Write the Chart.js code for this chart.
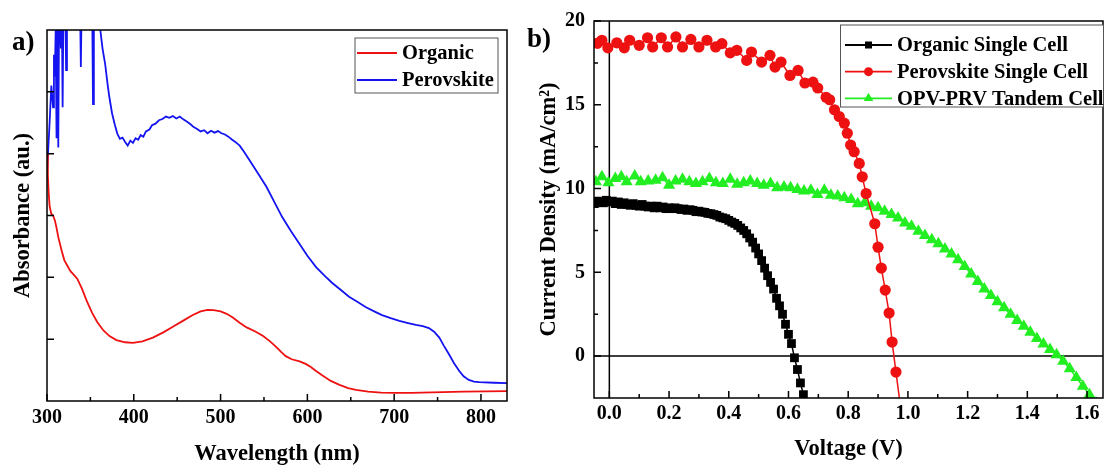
<!DOCTYPE html>
<html>
<head>
<meta charset="utf-8">
<script src="https://cdn.jsdelivr.net/npm/chart.js@4.4.0/dist/chart.umd.min.js"></script>
<style>
  html, body { margin: 0; padding: 0; background: #fff; overflow: hidden; width: 1105px; height: 465px; }
  #absChart { position: absolute; left: 0; top: 0; }
  #jvChart { position: absolute; left: 520px; top: 0; }
</style>
</head>
<body>
<canvas id="absChart" width="520" height="465"></canvas>
<canvas id="jvChart" width="590" height="465"></canvas>
<script>
// ---- panel a: absorbance spectra ----
const organicNm = [300, 301, 302, 303, 305, 307, 309, 311, 313, 317, 320, 323, 327, 331, 335, 340, 346, 352, 358, 365,
  372, 380, 390, 399, 410, 422, 434, 445, 457, 468, 477, 485, 492, 500, 507, 514, 522, 530, 540, 549,
  557, 564, 570, 575, 582, 591, 598, 604, 610, 617, 627, 637, 647, 656, 670, 685, 700, 720, 744, 780, 830];
const organicAbs = [0.80, 0.73, 0.67, 0.63, 0.605, 0.60, 0.585, 0.56, 0.53, 0.485, 0.455, 0.44, 0.42, 0.408, 0.395, 0.365, 0.322, 0.285, 0.255, 0.228,
  0.21, 0.197, 0.19, 0.188, 0.193, 0.205, 0.222, 0.24, 0.26, 0.278, 0.29, 0.295, 0.294, 0.29, 0.282, 0.27, 0.253, 0.238, 0.225, 0.21,
  0.193, 0.175, 0.158, 0.145, 0.135, 0.128, 0.12, 0.11, 0.097, 0.083, 0.065, 0.052, 0.042, 0.036, 0.03, 0.027, 0.026, 0.026, 0.028, 0.03, 0.032];

const perovNm = [300, 303, 305, 307, 308, 309, 310, 311, 312, 313, 314, 316, 317, 318, 319, 321, 322, 323, 338, 339,
  340, 352, 353, 354, 361, 364, 367, 370, 372, 375, 378, 381, 384, 387, 390, 393, 396, 399, 402, 405,
  408, 411, 414, 418, 421, 425, 429, 433, 437, 441, 445, 449, 453, 457, 461, 465, 469, 473, 477, 481,
  485, 489, 493, 497, 501, 505, 509, 513, 517, 522, 527, 533, 543, 553, 562, 571, 581, 591, 600, 610,
  620, 629, 639, 648, 658, 667, 677, 686, 696, 706, 716, 725, 733, 740, 746, 752, 757, 763, 769, 775,
  780, 786, 792, 798, 815, 830];
const perovAbs = [0.74, 0.90, 1.02, 0.95, 1.12, 1.05, 1.20, 0.85, 1.30, 0.82, 1.30, 1.14, 1.30, 0.95, 1.30, 1.30, 1.07, 1.30, 1.30, 1.08,
  1.30, 1.30, 0.96, 1.30, 1.21, 1.14, 1.09, 1.02, 0.98, 0.93, 0.895, 0.865, 0.848, 0.852, 0.838, 0.826, 0.842, 0.835, 0.85, 0.845,
  0.86, 0.855, 0.872, 0.878, 0.892, 0.897, 0.908, 0.912, 0.92, 0.916, 0.922, 0.914, 0.92, 0.911, 0.904, 0.896, 0.886, 0.88, 0.872, 0.876,
  0.866, 0.874, 0.868, 0.873, 0.866, 0.862, 0.855, 0.846, 0.838, 0.826, 0.806, 0.78, 0.737, 0.692, 0.643, 0.595, 0.55, 0.508, 0.47, 0.433,
  0.405, 0.381, 0.358, 0.337, 0.32, 0.304, 0.29, 0.278, 0.268, 0.259, 0.252, 0.246, 0.242, 0.236, 0.224, 0.205, 0.18, 0.152, 0.122, 0.097,
  0.08, 0.068, 0.063, 0.061, 0.059, 0.058];

const wlTicks = [300, 400, 500, 600, 700, 800];
const wlMinor = [350, 450, 550, 650, 750];
const absTicks = [0.2, 0.4, 0.6, 0.8, 1.0];

// ---- panel b: J-V curves ----
const orgV = [-0.05, -0.04, -0.03, -0.02, -0.01, 0.00, 0.01, 0.02, 0.03, 0.04, 0.05, 0.06, 0.07, 0.08, 0.09, 0.10,
  0.11, 0.12, 0.13, 0.14, 0.15, 0.16, 0.17, 0.18, 0.19, 0.20, 0.21, 0.22, 0.23, 0.24, 0.25, 0.26,
  0.27, 0.28, 0.29, 0.30, 0.31, 0.32, 0.33, 0.34, 0.35, 0.36, 0.37, 0.38, 0.39, 0.40, 0.41, 0.42,
  0.43, 0.44, 0.45, 0.46, 0.47, 0.48, 0.49, 0.50, 0.51, 0.52, 0.53, 0.54, 0.55, 0.56, 0.57, 0.58,
  0.59, 0.60, 0.61, 0.62, 0.63, 0.64, 0.65, 0.66];
const orgJ = [9.1, 9.25, 9.2, 9.15, 9.3, 9.2, 9.25, 9.1, 9.2, 9.05, 9.15, 9.05, 9.0, 9.1, 9.0, 8.95,
  9.05, 8.95, 8.9, 8.95, 8.85, 8.95, 8.85, 8.9, 8.8, 8.85, 8.8, 8.85, 8.8, 8.75, 8.78, 8.7,
  8.74, 8.7, 8.62, 8.65, 8.6, 8.58, 8.52, 8.5, 8.45, 8.4, 8.3, 8.25, 8.2, 8.1, 8.0, 7.92,
  7.8, 7.65, 7.5, 7.3, 7.05, 6.8, 6.45, 6.1, 5.7, 5.25, 4.8, 4.4, 4.0, 3.45, 3.0, 2.5,
  1.9, 1.3, 0.75, -0.1, -0.8, -1.6, -2.3, -3.0];

const prvV = [-0.04, -0.025, -0.005, 0.025, 0.05, 0.068, 0.1, 0.128, 0.145, 0.174, 0.195, 0.223, 0.245, 0.273, 0.3, 0.327,
  0.356, 0.377, 0.405, 0.427, 0.46, 0.476, 0.51, 0.538, 0.555, 0.575, 0.605, 0.632, 0.655, 0.682, 0.698, 0.726,
  0.738, 0.754, 0.77, 0.787, 0.797, 0.808, 0.82, 0.837, 0.847, 0.86, 0.889, 0.9, 0.911, 0.924, 0.937, 0.947, 0.96, 0.975];
const prvJ = [18.67, 18.85, 18.4, 18.7, 18.4, 18.85, 18.55, 19.0, 18.45, 19.0, 18.45, 19.05, 18.45, 18.9, 18.45, 18.85,
  18.45, 18.65, 18.1, 18.25, 17.65, 18.15, 17.55, 17.95, 17.25, 17.55, 16.75, 17.05, 16.3, 16.35, 16.0, 15.45,
  15.3, 14.7, 14.3, 13.9, 13.3, 12.6, 12.2, 11.5, 10.7, 9.7, 7.9, 6.5, 5.25, 3.94, 2.57, 0.84, -0.95, -3.0];

const tanV = [-0.045, -0.025, -0.003, 0.02, 0.04, 0.058, 0.085, 0.105, 0.13, 0.155, 0.178, 0.2, 0.222, 0.245, 0.268, 0.29,
  0.312, 0.335, 0.357, 0.38, 0.405, 0.428, 0.45, 0.472, 0.495, 0.517, 0.54, 0.562, 0.585, 0.607, 0.63, 0.652,
  0.675, 0.697, 0.72, 0.742, 0.765, 0.787, 0.81, 0.832, 0.855, 0.877, 0.9, 0.922, 0.945, 0.967, 0.99, 1.012,
  1.035, 1.057, 1.08, 1.102, 1.124, 1.146, 1.168, 1.19, 1.212, 1.234, 1.256, 1.278, 1.3, 1.322, 1.344, 1.366,
  1.388, 1.41, 1.432, 1.454, 1.476, 1.498, 1.52, 1.542, 1.564, 1.586, 1.608, 1.63];
const tanJ = [10.4, 10.7, 10.35, 10.6, 10.7, 10.4, 10.75, 10.4, 10.45, 10.5, 10.65, 10.2, 10.45, 10.55, 10.4, 10.3,
  10.4, 10.6, 10.35, 10.3, 10.55, 10.25, 10.35, 10.45, 10.3, 10.2, 10.3, 10.05, 10.1, 10.05, 9.95, 9.85,
  9.9, 9.65, 9.9, 9.6, 9.55, 9.45, 9.35, 9.1, 9.15, 8.95, 8.85, 8.65, 8.45, 8.25, 7.95, 7.75,
  7.45, 7.2, 6.95, 6.7, 6.4, 6.1, 5.75, 5.35, 4.9, 4.45, 4.0, 3.62, 3.25, 2.88, 2.5, 2.12,
  1.78, 1.42, 1.05, 0.72, 0.4, 0.08, -0.3, -0.75, -1.28, -1.8, -2.3, -2.8];

const vTicks = [0.0, 0.2, 0.4, 0.6, 0.8, 1.0, 1.2, 1.4, 1.6];
const vMinor = [0.1, 0.3, 0.5, 0.7, 0.9, 1.1, 1.3, 1.5];
const jTicks = [0, 5, 10, 15, 20];
const jMinor = [2.5, 7.5, 12.5, 17.5];

Chart.defaults.font.family = '"Liberation Serif", "Times New Roman", serif';
Chart.defaults.font.weight = 'bold';
Chart.defaults.color = '#000';

function pairs(xs, ys) {
  return xs.map((x, i) => ({ x: x, y: ys[i] }));
}

// box, inward ticks and zero lines
const framePlugin = {
  id: 'frame',
  beforeDatasetsDraw(chart, args, o) {
    if (!o.zeroLines) return;
    const { ctx, chartArea: a, scales } = chart;
    const zx = scales.x.getPixelForValue(0);
    const zy = scales.y.getPixelForValue(0);
    ctx.save();
    ctx.strokeStyle = '#000';
    ctx.lineWidth = 1.5;
    ctx.beginPath();
    ctx.moveTo(zx, a.top); ctx.lineTo(zx, a.bottom);
    ctx.moveTo(a.left, zy); ctx.lineTo(a.right, zy);
    ctx.stroke();
    ctx.restore();
  },
  afterDatasetsDraw(chart, args, o) {
    const { ctx, chartArea: a, scales } = chart;
    ctx.save();
    ctx.strokeStyle = '#000';
    ctx.lineWidth = 1.5;
    ctx.strokeRect(a.left, a.top, a.right - a.left, a.bottom - a.top);
    ctx.beginPath();
    (o.xMajor || []).forEach(v => { const p = scales.x.getPixelForValue(v); ctx.moveTo(p, a.bottom); ctx.lineTo(p, a.bottom - 7); });
    (o.xMinor || []).forEach(v => { const p = scales.x.getPixelForValue(v); ctx.moveTo(p, a.bottom); ctx.lineTo(p, a.bottom - 4); });
    (o.yMajor || []).forEach(v => { const p = scales.y.getPixelForValue(v); ctx.moveTo(a.left, p); ctx.lineTo(a.left + 7, p); });
    (o.yMinor || []).forEach(v => { const p = scales.y.getPixelForValue(v); ctx.moveTo(a.left, p); ctx.lineTo(a.left + 4, p); });
    ctx.stroke();
    ctx.restore();
  },
  afterDraw(chart, args, o) {
    const ctx = chart.ctx;
    ctx.save();
    // legend box
    const lg = o.legend;
    if (lg) {
      ctx.fillStyle = '#fff';
      ctx.fillRect(lg.box[0], lg.box[1], lg.box[2], lg.box[3]);
      ctx.strokeStyle = '#555';
      ctx.lineWidth = 1;
      ctx.strokeRect(lg.box[0], lg.box[1], lg.box[2], lg.box[3]);
      ctx.font = 'bold ' + lg.size + 'px "Liberation Serif", serif';
      ctx.textBaseline = 'middle';
      chart.data.datasets.forEach((ds, i) => {
        const y = lg.rows[i];
        ctx.strokeStyle = ds.borderColor;
        ctx.lineWidth = 1.8;
        ctx.beginPath();
        ctx.moveTo(lg.x1, y); ctx.lineTo(lg.x2, y);
        ctx.stroke();
        if (ds.pointRadius > 0) {
          ctx.fillStyle = ds.backgroundColor;
          Chart.helpers.drawPoint(ctx, { pointStyle: ds.pointStyle, radius: ds.pointRadius * 0.8, rotation: 0, borderWidth: 0 },
            (lg.x1 + lg.x2) / 2, y);
        }
        ctx.fillStyle = '#000';
        ctx.fillText(ds.label, lg.textX, y + 1);
      });
    }
    // panel letter
    ctx.fillStyle = '#000';
    ctx.font = 'bold 27px "Liberation Serif", serif';
    ctx.textBaseline = 'alphabetic';
    ctx.fillText(o.letter, o.letterX, o.letterY);
    ctx.restore();
  }
};
Chart.register(framePlugin);

const noGrid = { display: false, drawTicks: false };
const tickFont = { size: 20, weight: 'bold' };
const titleFont = { size: 22.5, weight: 'bold', lineHeight: 1 };

new Chart(document.getElementById('absChart'), {
  type: 'line',
  data: {
    datasets: [
      { label: 'Organic', data: pairs(organicNm, organicAbs), borderColor: '#ee1111', backgroundColor: '#ee1111',
        borderWidth: 1.8, pointRadius: 0 },
      { label: 'Perovskite', data: pairs(perovNm, perovAbs), borderColor: '#1414f0', backgroundColor: '#1414f0',
        borderWidth: 1.8, pointRadius: 0 }
    ]
  },
  options: {
    responsive: false,
    animation: false,
    layout: { padding: { top: 30, right: 13, left: 0, bottom: 0 } },
    scales: {
      x: {
        type: 'linear', min: 300, max: 830,
        afterBuildTicks: s => { s.ticks = wlTicks.map(v => ({ value: v })); },
        afterFit: s => { s.height = 64; },
        grid: noGrid, border: { display: false },
        ticks: { padding: 5, font: tickFont, maxRotation: 0 },
        title: { display: true, text: 'Wavelength (nm)', font: titleFont, padding: { top: 0, bottom: 0 } }
      },
      y: {
        type: 'linear', min: 0, max: 1.2,
        afterFit: s => { s.width = 47; },
        grid: noGrid, border: { display: false },
        ticks: { display: false },
        title: { display: true, text: 'Absorbance (au.)', font: titleFont, padding: { top: 12, bottom: 0 } }
      }
    },
    plugins: {
      legend: { display: false },
      tooltip: { enabled: false },
      frame: {
        xMajor: wlTicks, xMinor: wlMinor, yMajor: absTicks,
        legend: { box: [355, 38, 143, 55], rows: [53, 80], x1: 357, x2: 397, textX: 402, size: 20.5 },
        letter: 'a)', letterX: 12, letterY: 50
      }
    }
  }
});

new Chart(document.getElementById('jvChart'), {
  type: 'line',
  data: {
    datasets: [
      { label: 'Organic Single Cell', data: pairs(orgV, orgJ), borderColor: '#000', backgroundColor: '#000',
        borderWidth: 1.5, pointStyle: 'rect', pointRadius: 6.2, pointBorderWidth: 0 },
      { label: 'Perovskite Single Cell', data: pairs(prvV, prvJ), borderColor: '#ee1111', backgroundColor: '#ee1111',
        borderWidth: 1.5, pointStyle: 'circle', pointRadius: 5.6, pointBorderWidth: 0 },
      { label: 'OPV-PRV Tandem Cell', data: pairs(tanV, tanJ), borderColor: '#22ee22', backgroundColor: '#22ee22',
        borderWidth: 1.5, pointStyle: 'triangle', pointRadius: 7, pointBorderWidth: 0 }
    ]
  },
  options: {
    responsive: false,
    animation: false,
    layout: { padding: { top: 21, right: 2, left: 0, bottom: 0 } },
    scales: {
      x: {
        type: 'linear', min: -0.0514, max: 1.6534,
        afterBuildTicks: s => { s.ticks = vTicks.map(v => ({ value: v })); },
        afterFit: s => { s.height = 67; },
        grid: noGrid, border: { display: false },
        ticks: { padding: 4, font: tickFont, maxRotation: 0, callback: v => v.toFixed(1) },
        title: { display: true, text: 'Voltage (V)', font: titleFont, padding: { top: 0, bottom: 5 } }
      },
      y: {
        type: 'linear', min: -2.5, max: 20,
        afterBuildTicks: s => { s.ticks = jTicks.map(v => ({ value: v })); },
        afterFit: s => { s.width = 74; },
        grid: noGrid, border: { display: false },
        ticks: { padding: 9, font: tickFont },
        title: { display: true, text: 'Current Density (mA/cm²)', font: titleFont, padding: { top: 18, bottom: 0 } }
      }
    },
    plugins: {
      legend: { display: false },
      tooltip: { enabled: false },
      frame: {
        zeroLines: true,
        xMajor: vTicks, xMinor: vMinor, yMajor: jTicks, yMinor: jMinor,
        legend: { box: [320.5, 25, 263, 82], rows: [45, 71.7, 98.3], x1: 325, x2: 372, textX: 377, size: 20.5 },
        letter: 'b)', letterX: 7, letterY: 47
      }
    }
  }
});
</script>
</body>
</html>
